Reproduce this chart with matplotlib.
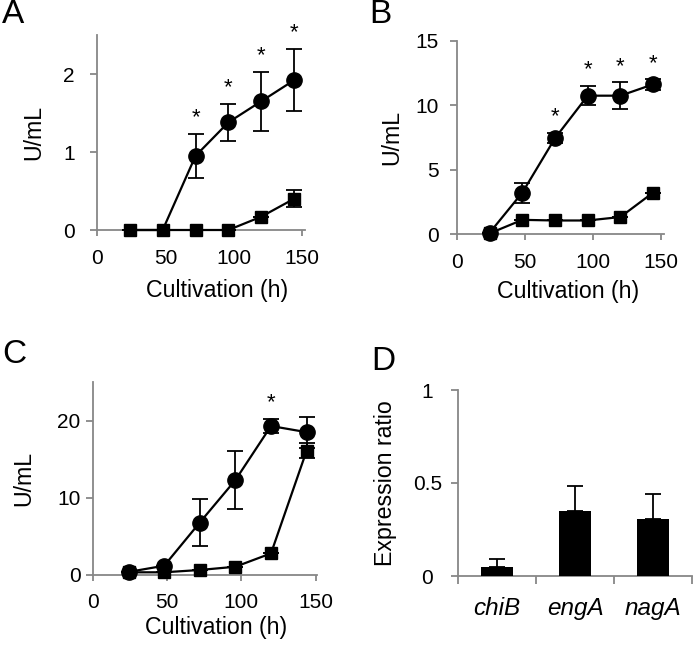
import matplotlib
matplotlib.use('Agg')
import matplotlib.pyplot as plt
import numpy as np

plt.rcParams['font.family'] = ['Liberation Sans', 'DejaVu Sans']

# cultivation time points (h)
hours = [24, 48, 72, 96, 120, 144]

# panel A
a_circle = [0, 0, 0.95, 1.38, 1.65, 1.92]
a_circle_err = [0, 0, 0.28, 0.24, 0.38, 0.40]
a_square = [0, 0, 0, 0, 0.17, 0.40]
a_square_err = [0, 0, 0, 0, 0, 0.11]
a_star = [72, 96, 120, 144]

# panel B
b_circle = [0.1, 3.22, 7.45, 10.75, 10.75, 11.63]
b_circle_err = [0, 0.78, 0.40, 0.75, 1.05, 0.40]
b_square = [0.05, 1.1, 1.05, 1.05, 1.32, 3.22]
b_square_err = [0, 0, 0, 0, 0, 0]
b_star = [72, 96, 120, 144]

# panel C
c_circle = [0.4, 1.2, 6.8, 12.3, 19.3, 18.5]
c_circle_err = [0, 0, 3.1, 3.7, 0.9, 2.0]
c_square = [0.35, 0.35, 0.65, 1.07, 2.8, 16.1]
c_square_err = [0, 0, 0, 0, 0, 1.0]
c_star = [120]

# panel D
genes = ['chiB', 'engA', 'nagA']
ratio = [0.05, 0.35, 0.305]
ratio_err = [0.04, 0.133, 0.135]

spine_col = '#878787'
fs_tick = 15
fs_lab = 16.7


def style_axes(ax, ypad, xpad):
    for s in ['top', 'right']:
        ax.spines[s].set_visible(False)
    for s in ['left', 'bottom']:
        ax.spines[s].set_color(spine_col)
        ax.spines[s].set_linewidth(1.3)
        ax.spines[s].set_zorder(0)
    ax.tick_params(axis='y', direction='out', length=5, width=1.3, color=spine_col,
                   labelsize=fs_tick, pad=ypad)
    ax.tick_params(axis='x', direction='out', length=4, width=1.3, color=spine_col,
                   labelsize=fs_tick, pad=xpad)


def time_panel(ax, circ, circ_err, sq, sq_err, stars, ylim, yticks, xmax, ypad, xpad,
               ylab_x, xlab_xy, circ_marks=None):
    ax.errorbar(hours, circ, yerr=circ_err, fmt='-o', color='black', ms=11, lw=1.6,
                elinewidth=1.3, capsize=5.5, capthick=1.3, zorder=3, clip_on=False,
                markevery=circ_marks)
    ax.errorbar(hours, sq, yerr=sq_err, fmt='-s', color='black', ms=8.3, lw=1.6,
                elinewidth=1.3, capsize=5.5, capthick=1.3, zorder=4, clip_on=False)
    for h in stars:
        i = hours.index(h)
        ax.annotate('*', xy=(h, circ[i] + circ_err[i]), xytext=(0, 7.5),
                    textcoords='offset points', ha='center', va='baseline', fontsize=16)
    ax.set_xlim(0, xmax)
    ax.set_ylim(*ylim)
    ax.set_xticks([0, 50, 100, 150])
    ax.set_yticks(yticks)
    ax.set_xlabel('Cultivation (h)', fontsize=fs_lab)
    ax.set_ylabel('U/mL', fontsize=fs_lab)
    ax.yaxis.set_label_coords(ylab_x, 0.5)
    ax.xaxis.set_label_coords(*xlab_xy)
    style_axes(ax, ypad, xpad)


fig = plt.figure(figsize=(6.93, 6.47), dpi=100)
W, H = 693, 647


def add_ax(l, r, t, b):
    return fig.add_axes([l / W, (H - b) / H, (r - l) / W, (b - t) / H])


axA = add_ax(97, 305, 35, 230)
time_panel(axA, a_circle, a_circle_err, a_square, a_square_err, a_star,
           (0, 2.5), [0, 1, 2], 152, 11, 10, -0.25, (0.575, -0.25),
           circ_marks=[2, 3, 4, 5])

axB = add_ax(457, 664, 41, 234)
time_panel(axB, b_circle, b_circle_err, b_square, b_square_err, b_star,
           (0, 15), [0, 5, 10, 15], 152, 8, 10, -0.26, (0.536, -0.237))

axC = add_ax(93, 317, 382, 575)
time_panel(axC, c_circle, c_circle_err, c_square, c_square_err, c_star,
           (0, 25), [0, 10, 20], 151, 4, 9, -0.259, (0.549, -0.21))

axD = add_ax(458, 692, 390, 576)
pos = np.arange(len(genes))
axD.bar(pos, ratio, width=0.42, color='black', zorder=3)
axD.errorbar(pos, ratio, yerr=[np.zeros(len(ratio)), ratio_err], fmt='none',
             ecolor='black', elinewidth=1.3, capsize=5.5, capthick=1.3, zorder=3)
axD.set_xlim(-0.5, 2.5)
axD.set_ylim(0, 1)
axD.set_yticks([0, 0.5, 1])
axD.set_yticklabels(['0', '0.5', '1'])
axD.set_xticks([-0.5, 0.5, 1.5, 2.5])
axD.set_xticklabels([])
axD.set_xticks(pos, minor=True)
axD.set_xticklabels(genes, minor=True, style='italic')
axD.set_ylabel('Expression ratio', fontsize=fs_lab)
axD.yaxis.set_label_coords(-0.26, 0.5)
style_axes(axD, 17, 8)
for t in axD.get_yticklabels():
    t.set_ha('center')
axD.tick_params(axis='x', which='major', length=6)
axD.tick_params(axis='x', which='minor', length=0, pad=15, labelsize=17.5)

# panel letters
for lab, x, y in [('A', 2, -1), ('B', 369, -1), ('C', 2, 339), ('D', 371, 346)]:
    fig.text(x / W, 1 - y / H, lab, fontsize=24, ha='left', va='top')

fig.savefig('out.png', dpi=100)
